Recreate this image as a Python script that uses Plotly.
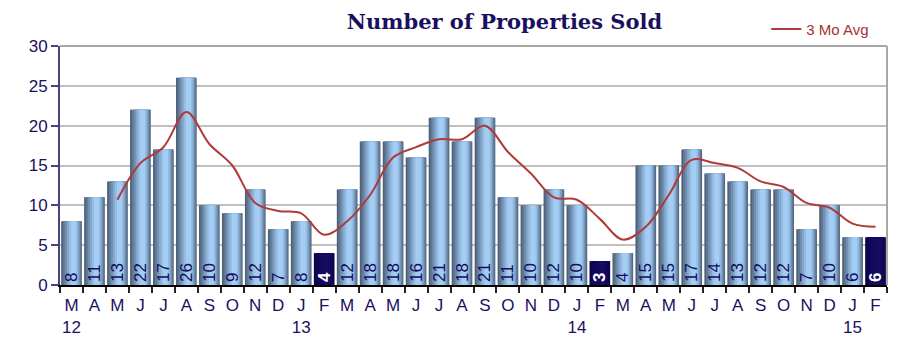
import plotly.graph_objects as go

months = ["M","A","M","J","J","A","S","O","N","D","J","F",
          "M","A","M","J","J","A","S","O","N","D","J","F",
          "M","A","M","J","J","A","S","O","N","D","J","F"]
years = {0: "12", 10: "13", 22: "14", 34: "15"}
sold = [8,11,13,22,17,26,10,9,12,7,8,4,
        12,18,18,16,21,18,21,11,10,12,10,3,
        4,15,15,17,14,13,12,12,7,10,6,6]
avg3 = [None,None,10.7,15.3,17.3,21.7,17.7,15.0,10.3,9.3,9.0,6.3,
        8.0,11.3,16.0,17.3,18.3,18.3,20.0,16.7,14.0,11.0,10.7,8.3,
        5.7,7.3,11.3,15.7,15.3,14.7,13.0,12.3,10.3,9.7,7.7,7.3]

cats = [f"{i:02d}-{m}" for i, m in enumerate(months)]
ticktext = [m + ("<br>" + years[i] if i in years else "") for i, m in enumerate(months)]
is_feb = [m == "F" for m in months]

NAVY = "#140c5c"
fig = go.Figure()

# gradient layers (outer -> inner)
layers = [
    (0.90, 0.00, "#4d6178", "#0c0548"),
    (0.80, 0.02, "#5e7895", "#0e0650"),
    (0.66, 0.04, "#718fb0", "#100756"),
    (0.52, 0.06, "#84a7ca", "#12085a"),
    (0.38, 0.08, "#95bde2", "#14095e"),
    (0.22, 0.09, "#a3cdf4", "#160a62"),
]
for w, c, col, dcol in layers:
    fig.add_trace(go.Bar(
        x=cats, y=sold, width=w, offset=c - w / 2,
        marker=dict(color=[dcol if f else col for f in is_feb], line=dict(width=0)),
        showlegend=False, hoverinfo="skip"))

fig.add_trace(go.Bar(
    x=cats, y=sold, width=0.9, offset=-0.45,
    marker=dict(color="rgba(0,0,0,0)", line=dict(width=0)),
    text=[str(v) for v in sold], textposition="inside", insidetextanchor="start",
    textangle=-90, constraintext="none",
    textfont=dict(family="Liberation Sans, Arial", size=17,
                  color=["white" if f else NAVY for f in is_feb],
                  weight=[700 if f else 400 for f in is_feb]),
    showlegend=False, hoverinfo="skip"))

fig.add_trace(go.Scatter(
    x=cats, y=avg3, mode="lines", name="3 Mo Avg",
    line=dict(color="#b03a3a", width=2, shape="spline", smoothing=1.0),
    connectgaps=False))

fig.update_layout(
    width=906, height=354,
    margin=dict(l=52, r=27, t=38, b=77, autoexpand=False),
    paper_bgcolor="white", plot_bgcolor="white",
    barmode="overlay", bargap=0.1,
    title=dict(text="<b>Number of Properties Sold</b>", x=0.548, xanchor="center",
               y=0.962, yanchor="middle",
               font=dict(family="DejaVu Serif, Georgia, serif", size=21, color="#1a1060")),
    legend=dict(x=0.854, y=1.07, xanchor="left", yanchor="middle", bgcolor="rgba(0,0,0,0)",
                font=dict(family="Liberation Sans, Arial", size=15, color="#a83232")),
    showlegend=True,
    xaxis=dict(type="category", categoryorder="array", categoryarray=cats,
               tickvals=cats, ticktext=ticktext, tickson="boundaries", tickangle=0,
               ticks="outside", ticklen=6, tickcolor="#222", tickwidth=1.5,
               ticklabelstandoff=4,
               showline=True, linecolor="black", linewidth=1.5, automargin=False,
               showgrid=False, range=[-0.5, 35.5],
               tickfont=dict(family="Liberation Sans, Arial", size=17, color="#1a1060")),
    yaxis=dict(range=[0, 30], tickvals=[0, 5, 10, 15, 20, 25, 30], automargin=False,
               ticks="outside", ticklen=7, tickcolor="#4b4080", tickwidth=1.5,
               showline=True, linecolor="#4b4080", linewidth=2,
               showgrid=True, gridcolor="#c0c0c0", gridwidth=1.5, zeroline=False,
               tickfont=dict(family="Liberation Sans, Arial", size=17, color="#1a1060")),
    shapes=[
        dict(type="line", xref="paper", yref="paper", x0=0, x1=1, y0=1, y1=1,
             line=dict(color="#a8a8a8", width=2)),
        dict(type="line", xref="paper", yref="paper", x0=1, x1=1, y0=0, y1=1,
             line=dict(color="#a8a8a8", width=2)),
    ],
)

fig.write_html("out.html")
